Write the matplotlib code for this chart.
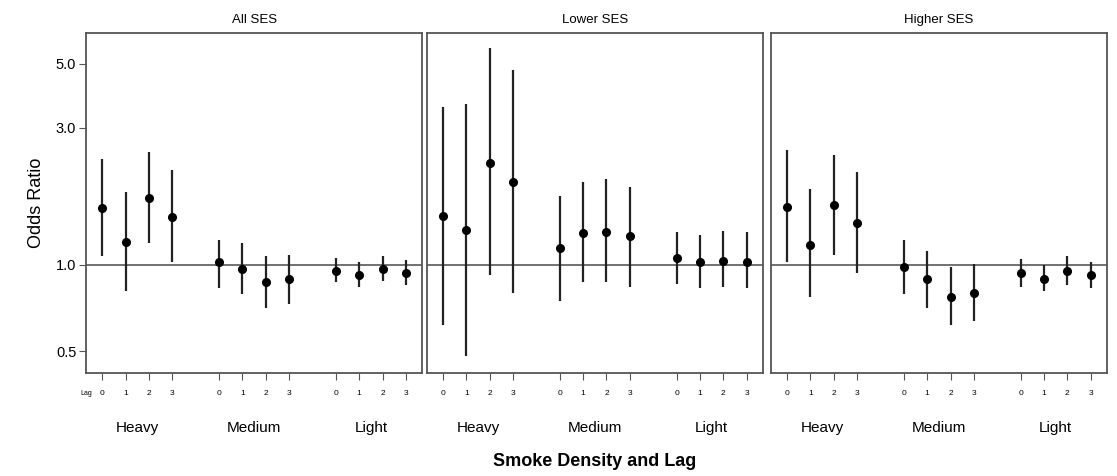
import numpy as np
import matplotlib
matplotlib.use("Agg")
import matplotlib.pyplot as plt

plt.rcParams['font.family'] = ['Liberation Sans', 'DejaVu Sans']

panels = ["All SES", "Lower SES", "Higher SES"]
groups = ["Heavy", "Medium", "Light"]
lags = ["0", "1", "2", "3"]

# odds ratio, lower CI, upper CI per panel (Heavy 0-3, Medium 0-3, Light 0-3)
or_all = [1.57, 1.20, 1.70, 1.47, 1.02, 0.97, 0.87, 0.89, 0.95, 0.92, 0.97, 0.94]
lo_all = [1.07, 0.81, 1.19, 1.02, 0.83, 0.79, 0.71, 0.73, 0.87, 0.84, 0.88, 0.85]
hi_all = [2.33, 1.79, 2.47, 2.14, 1.22, 1.19, 1.07, 1.08, 1.06, 1.02, 1.07, 1.04]

or_low = [1.48, 1.32, 2.26, 1.94, 1.14, 1.29, 1.30, 1.26, 1.06, 1.02, 1.03, 1.02]
lo_low = [0.62, 0.48, 0.92, 0.80, 0.75, 0.87, 0.87, 0.84, 0.86, 0.83, 0.84, 0.83]
hi_low = [3.54, 3.63, 5.67, 4.76, 1.74, 1.94, 1.99, 1.87, 1.30, 1.27, 1.31, 1.30]

or_high = [1.59, 1.17, 1.62, 1.40, 0.98, 0.89, 0.77, 0.80, 0.94, 0.89, 0.95, 0.92]
lo_high = [1.02, 0.77, 1.08, 0.94, 0.79, 0.71, 0.62, 0.64, 0.84, 0.81, 0.85, 0.83]
hi_high = [2.51, 1.84, 2.41, 2.10, 1.22, 1.12, 0.98, 1.01, 1.05, 1.00, 1.07, 1.02]

data = [(or_all, lo_all, hi_all), (or_low, lo_low, hi_low), (or_high, lo_high, hi_high)]

xpos = [1, 2, 3, 4, 6, 7, 8, 9, 11, 12, 13, 14]
group_centers = [2.5, 7.5, 12.5]

fig = plt.figure(figsize=(11.17, 4.76), dpi=100)
lefts = [0.077, 0.382, 0.690]
frame_col = "#555555"

for i, (name, (est, lo, hi)) in enumerate(zip(panels, data)):
    ax = fig.add_axes([lefts[i], 0.216, 0.301, 0.715])
    ax.set_yscale("log")
    ax.set_ylim(0.42, 6.4)
    ax.set_xlim(0.3, 14.7)
    ax.axhline(1.0, color="#666666", lw=1.3, zorder=1)
    est = np.array(est)
    yerr = [est - np.array(lo), np.array(hi) - est]
    ax.errorbar(xpos, est, yerr=yerr, fmt="o", color="black", ecolor="#222222",
                elinewidth=1.6, capsize=0, markersize=5.5, zorder=3)
    for s in ax.spines.values():
        s.set_color(frame_col)
        s.set_linewidth(1.3)
    ax.set_xticks(xpos)
    ax.set_xticklabels(lags * 3, fontsize=6)
    ax.tick_params(axis="x", length=5, color=frame_col, pad=7)
    ax.yaxis.set_minor_locator(matplotlib.ticker.NullLocator())
    if i == 0:
        ax.set_yticks([0.5, 1.0, 3.0, 5.0])
        ax.set_yticklabels(["0.5", "1.0", "3.0", "5.0"], fontsize=10.5)
        ax.tick_params(axis="y", length=5, color=frame_col, pad=2)
        ax.set_ylabel("Odds Ratio", fontsize=13, labelpad=8)
        ax.text(0.3, -0.06, "Lag", transform=ax.get_xaxis_transform(),
                fontsize=5, ha="center", va="center")
    else:
        ax.set_yticks([])
    ax.set_title(name, fontsize=9.5, pad=7)
    for g, c in zip(groups, group_centers):
        ax.text(c, -0.162, g, transform=ax.get_xaxis_transform(), ha="center",
                va="center", fontsize=11)

fig.text(0.532, 0.03, "Smoke Density and Lag", ha="center", va="center",
         fontsize=13, fontweight="bold")

fig.savefig("out.png", dpi=100)
